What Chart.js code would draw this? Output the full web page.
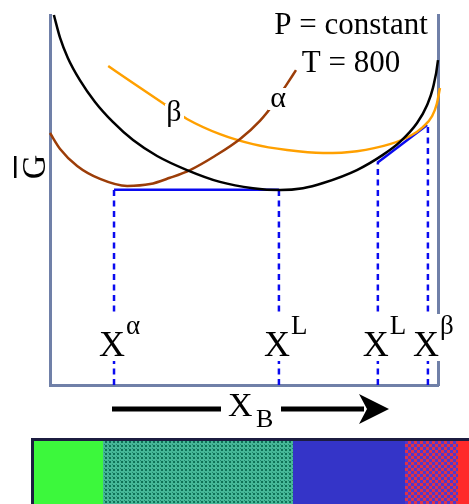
<!DOCTYPE html>
<html>
<head>
<meta charset="utf-8">
<script src="https://cdn.jsdelivr.net/npm/chart.js@4.4.0/dist/chart.umd.min.js"></script>
<style>
  html, body { margin: 0; padding: 0; background: #fff; }
  #wrap { width: 469px; height: 504px; position: relative; }
</style>
</head>
<body>
<div id="wrap"><canvas id="chart"></canvas></div>
<script>
// Molar free energy curves at T = 800 (composition X_B 0..1, G in arbitrary units)
const liquidX = [0.01, 0.026, 0.046, 0.077, 0.116, 0.162, 0.214, 0.276, 0.353, 0.438, 0.523, 0.593, 0.652, 0.704, 0.791, 0.858, 0.902, 0.946, 0.972, 0.987, 1.0, 1.008];
const liquidG = [1.0, 0.938, 0.884, 0.824, 0.765, 0.711, 0.662, 0.619, 0.581, 0.549, 0.532, 0.527, 0.532, 0.546, 0.581, 0.622, 0.657, 0.708, 0.757, 0.803, 0.878, 0.984];

const alphaX = [0, 0.026, 0.07, 0.129, 0.199, 0.258, 0.309, 0.361, 0.425, 0.49, 0.541, 0.58, 0.611, 0.634];
const alphaG = [0.681, 0.638, 0.592, 0.557, 0.538, 0.543, 0.560, 0.581, 0.619, 0.665, 0.714, 0.765, 0.814, 0.851];

const betaX = [0.15, 0.214, 0.302, 0.353, 0.438, 0.523, 0.611, 0.704, 0.791, 0.876, 0.928, 0.961, 0.985, 0.997, 1.005];
const betaG = [0.862, 0.816, 0.754, 0.719, 0.678, 0.651, 0.635, 0.627, 0.632, 0.651, 0.673, 0.697, 0.727, 0.760, 0.803];

// common tangents and the compositions they pick out
const tieLeftX = [0.165, 0.59];
const tieLeftG = [0.528, 0.528];
const tieRightX = [0.843, 0.972];
const tieRightG = [0.6, 0.703];
const compX = [0.165, 0.59, 0.845, 0.974];
const compG = [0.528, 0.528, 0.6, 0.703];
const compLabels = [['X', 'α'], ['X', 'L'], ['X', 'L'], ['X', 'β']];

const SERIF = '"Liberation Serif", "DejaVu Serif", serif';
const BLUE = '#0a0af0';
const FRAME = '#7080a8';

const toPts = (xs, ys) => xs.map((x, i) => ({ x, y: ys[i] }));

const curve = (data, color) => ({
  data, borderColor: color, borderWidth: 2.5, pointRadius: 0,
  cubicInterpolationMode: 'monotone', clip: false, fill: false
});

const datasets = [
  curve(toPts(liquidX, liquidG), '#000000'),
  curve(toPts(alphaX, alphaG), '#9c3d08'),
  curve(toPts(betaX, betaG), '#ffa000'),
  { data: toPts(tieLeftX, tieLeftG), borderColor: BLUE, borderWidth: 2.5, pointRadius: 0, clip: false },
  { data: toPts(tieRightX, tieRightG), borderColor: BLUE, borderWidth: 2.5, pointRadius: 0, clip: false },
  ...compX.map((x, i) => ({
    data: [{ x, y: 0 }, { x, y: compG[i] }],
    borderColor: BLUE, borderWidth: 2.5, borderDash: [6, 4.5], pointRadius: 0, clip: false
  }))
];

function makePattern(size, draw) {
  const c = document.createElement('canvas');
  c.width = size; c.height = size;
  draw(c.getContext('2d'));
  return c;
}

const tealTile = makePattern(4, g => {
  g.fillStyle = '#46b898'; g.fillRect(0, 0, 4, 4);
  g.fillStyle = '#0f7257'; g.fillRect(1, 1, 2, 2);
  g.fillStyle = '#238a70'; g.fillRect(0, 0, 1, 1);
});
const purpleTile = makePattern(6, g => {
  g.fillStyle = '#dd3348'; g.fillRect(0, 0, 6, 6);
  g.fillStyle = '#5038cc'; g.fillRect(0, 0, 3, 3); g.fillRect(3, 3, 3, 3);
});

function boxedText(ctx, text, x, y, font, align) {
  ctx.font = font;
  ctx.textAlign = align || 'center';
  ctx.textBaseline = 'alphabetic';
  ctx.fillText(text, x, y);
}

const decor = {
  id: 'decor',
  afterDatasetsDraw(chart) {
    const { ctx, scales: { x: xs } } = chart;
    ctx.save();

    // curve labels with white backing
    ctx.fillStyle = '#fff';
    ctx.fillRect(268, 88, 21, 22);
    ctx.fillRect(165, 104, 19, 26);
    ctx.fillStyle = '#000';
    boxedText(ctx, 'α', 278, 107, '30px ' + SERIF);
    boxedText(ctx, 'β', 174, 121, '30px ' + SERIF);

    // composition labels on the dotted lines
    compX.forEach((v, i) => {
      const px = xs.getPixelForValue(v) - 2;
      const [main, sup] = compLabels[i];
      ctx.font = '36px ' + SERIF;
      const w = ctx.measureText(main).width;
      ctx.font = '27px ' + SERIF;
      const ws = ctx.measureText(sup).width;
      ctx.fillStyle = '#fff';
      ctx.fillRect(px - w / 2 - 1, 314, w + ws + 2, 47);
      ctx.fillStyle = '#000';
      boxedText(ctx, main, px, 356, '36px ' + SERIF);
      boxedText(ctx, sup, px + w / 2 + 1, 334, '27px ' + SERIF, 'left');
    });

    // title
    boxedText(ctx, 'P = constant', 351, 34, '31px ' + SERIF);
    boxedText(ctx, 'T = 800', 351, 72, '31px ' + SERIF);

    // rotated G with bar
    ctx.save();
    ctx.translate(45, 167);
    ctx.rotate(-Math.PI / 2);
    boxedText(ctx, 'G', 0, 0, '34px ' + SERIF);
    ctx.fillRect(-11, -31, 22, 2.5);
    ctx.restore();

    // X_B arrow
    ctx.lineWidth = 5;
    ctx.strokeStyle = '#000';
    ctx.beginPath();
    ctx.moveTo(112, 409); ctx.lineTo(221, 409);
    ctx.moveTo(281, 409); ctx.lineTo(364, 409);
    ctx.stroke();
    ctx.beginPath();
    ctx.moveTo(389, 409); ctx.lineTo(359, 394); ctx.lineTo(367, 409); ctx.lineTo(359, 424);
    ctx.closePath();
    ctx.fill();
    boxedText(ctx, 'X', 228, 416, '34px ' + SERIF, 'left');
    boxedText(ctx, 'B', 256, 427, '26px ' + SERIF, 'left');

    // composition colour band
    ctx.fillStyle = '#1c1c40';
    ctx.fillRect(31, 438, 438, 66);
    ctx.fillStyle = '#3cf83c'; ctx.fillRect(34, 441, 69, 63);
    ctx.fillStyle = ctx.createPattern(tealTile, 'repeat'); ctx.fillRect(103, 441, 190, 63);
    ctx.fillStyle = '#3434c8'; ctx.fillRect(293, 441, 112, 63);
    ctx.fillStyle = ctx.createPattern(purpleTile, 'repeat'); ctx.fillRect(405, 441, 53, 63);
    ctx.fillStyle = '#ff2a2a'; ctx.fillRect(458, 441, 11, 63);

    ctx.restore();
  }
};

const hiddenAxis = extra => Object.assign({
  type: 'linear', min: 0, max: 1,
  ticks: { display: false },
  grid: { display: false, drawTicks: false, tickLength: 0 },
  border: { display: true, color: FRAME, width: 3 }
}, extra);

new Chart(document.getElementById('chart'), {
  type: 'line',
  data: { datasets },
  options: {
    responsive: true,
    maintainAspectRatio: false,
    animation: false,
    layout: { padding: { left: 50, right: 31, top: 15, bottom: 119 } },
    plugins: { legend: { display: false }, tooltip: { enabled: false } },
    scales: {
      x: hiddenAxis({}),
      y: hiddenAxis({}),
      y2: hiddenAxis({ position: 'right' })
    }
  },
  plugins: [decor]
});
</script>
</body>
</html>
